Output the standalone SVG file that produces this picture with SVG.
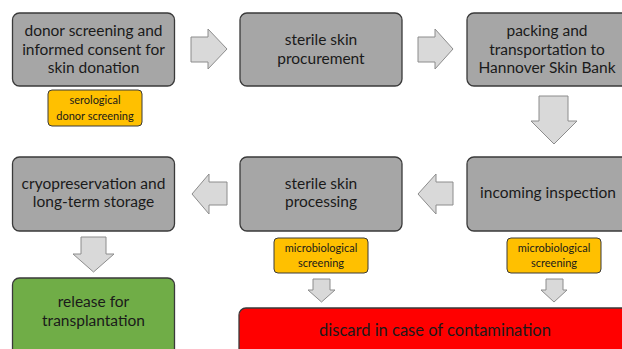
<svg xmlns="http://www.w3.org/2000/svg" width="622" height="349" viewBox="0 0 622 349">
<style>
.box{fill:#a6a6a6;stroke:#3a3a3a;stroke-width:1.3}
.yel{fill:#ffc000;stroke:#3a3a3a;stroke-width:1}
.grn{fill:#70ad47;stroke:#3a3a3a;stroke-width:1.3}
.red{fill:#ff0000;stroke:#3a3a3a;stroke-width:1.3}
.arr{fill:#d9d9d9;stroke:#8c8c8c;stroke-width:1}
.t{font-family:Lato,"Open Sans","Liberation Sans",sans-serif;font-size:15.5px;fill:#1a1a1a;text-anchor:middle}
.s{font-family:Lato,"Open Sans","Liberation Sans",sans-serif;font-size:11px;fill:#1a1a1a;text-anchor:middle}
</style>
<rect width="622" height="349" fill="#ffffff"/>
<g id="connectors">
<polygon class="arr" points="191,37 208,37 208,29 227,49 208,69 208,62 191,62"/>
<polygon class="arr" points="418,37 435,37 435,29 453,49 435,69 435,62 418,62"/>
<polygon class="arr" points="539,96 568,96 568,121 577,121 554,144 531,121 539,121"/>
<polygon class="arr" points="453,182 436,182 436,174 418,194 436,214 436,205 453,205"/>
<polygon class="arr" points="227,182 209,182 209,174 192,194 209,214 209,205 227,205"/>
<polygon class="arr" points="81,237 106,237 106,254 114,254 93.5,272 73,254 81,254"/>
<polygon class="arr" points="313,279 330,279 330,290 335,290 321.5,302 308,290 313,290"/>
<polygon class="arr" points="546,279 563,279 563,290 567,290 554,302 541,290 546,290"/>
</g>
<g id="n1">
<rect class="box" x="12.5" y="13" width="162" height="73" rx="7"/>
<text class="t" x="93.5" y="36">donor screening and</text>
<text class="t" x="93.5" y="54.5">informed consent for</text>
<text class="t" x="93.5" y="73">skin donation</text>
</g>
<g id="y1">
<rect class="yel" x="48" y="90" width="94" height="36" rx="4"/>
<text class="s" x="95" y="104">serological</text>
<text class="s" x="95" y="119.5">donor screening</text>
</g>
<g id="n2">
<rect class="box" x="240" y="13" width="162" height="73" rx="7"/>
<text class="t" x="321" y="45">sterile skin</text>
<text class="t" x="321" y="63.5">procurement</text>
</g>
<g id="n3">
<rect class="box" x="467" y="13" width="162" height="73" rx="7"/>
<text class="t" x="547" y="36">packing and</text>
<text class="t" x="547" y="54.5">transportation to</text>
<text class="t" x="547" y="73">Hannover Skin Bank</text>
</g>
<g id="n4">
<rect class="box" x="467" y="157" width="162" height="74" rx="7"/>
<text class="t" x="548" y="198">incoming inspection</text>
</g>
<g id="y3">
<rect class="yel" x="507" y="238" width="94" height="35" rx="4"/>
<text class="s" x="554" y="252">microbiological</text>
<text class="s" x="554" y="266.5">screening</text>
</g>
<g id="n5">
<rect class="box" x="240" y="157" width="162" height="74" rx="7"/>
<text class="t" x="321" y="188.5">sterile skin</text>
<text class="t" x="321" y="207">processing</text>
</g>
<g id="y2">
<rect class="yel" x="274" y="238" width="94" height="35" rx="4"/>
<text class="s" x="321" y="252">microbiological</text>
<text class="s" x="321" y="266.5">screening</text>
</g>
<g id="n6">
<rect class="box" x="12.5" y="157" width="162" height="74" rx="7"/>
<text class="t" x="93.5" y="188.5">cryopreservation and</text>
<text class="t" x="93.5" y="207">long-term storage</text>
</g>
<g id="n7">
<rect class="grn" x="12.5" y="278" width="162" height="80" rx="7"/>
<text class="t" x="93.5" y="307">release for</text>
<text class="t" x="93.5" y="325.5">transplantation</text>
</g>
<g id="n8">
<rect class="red" x="239" y="308" width="392" height="60" rx="7"/>
<text class="t" x="435" y="336" style="font-size:16.5px">discard in case of contamination</text>
</g>
</svg>
